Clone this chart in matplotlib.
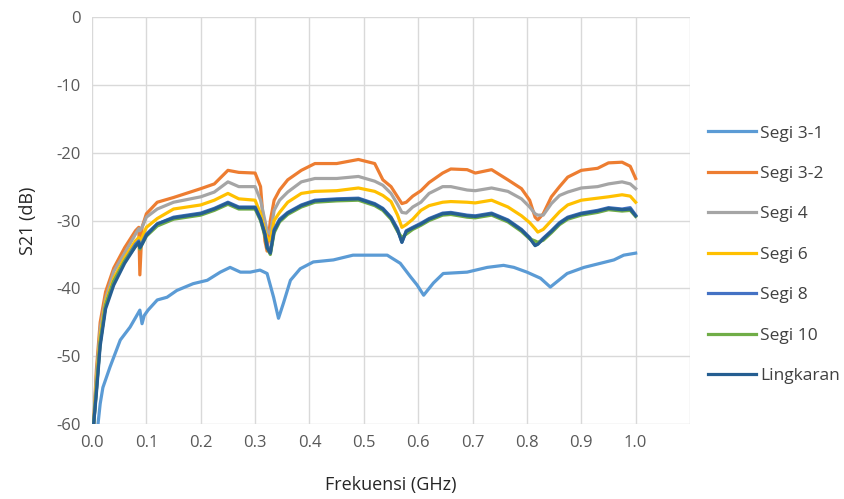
import matplotlib.pyplot as plt

# ---------------------------------
# Data
# ---------------------------------
freq = [0.003, 0.008, 0.015, 0.025, 0.04, 0.06, 0.08, 0.086, 0.088, 0.092, 0.1,
        0.12, 0.15, 0.2, 0.225, 0.25, 0.27, 0.3, 0.31, 0.318, 0.322, 0.328, 0.335,
        0.345, 0.36, 0.385, 0.41, 0.45, 0.49, 0.52, 0.535, 0.55, 0.562, 0.57, 0.578,
        0.59, 0.605, 0.62, 0.645, 0.66, 0.69, 0.705, 0.735, 0.765, 0.79, 0.805,
        0.815, 0.82, 0.83, 0.845, 0.86, 0.875, 0.9, 0.93, 0.95, 0.975, 0.99, 1.0]

segi_3_2 = [-60, -52, -45, -40.5, -37, -34, -31.5, -31, -38, -31, -29,
            -27.3, -26.6, -25.3, -24.6, -22.6, -22.9, -23, -25, -33, -34.5, -30, -27,
            -25.5, -24, -22.6, -21.6, -21.6, -21.0, -21.6, -24.0, -25, -26.5, -27.5, -27.3,
            -26.4, -25.6, -24.4, -23, -22.4, -22.5, -23, -22.5, -24, -25.3, -27,
            -29.5, -29.9, -29, -26.5, -25, -23.6, -22.6, -22.3, -21.5, -21.4, -22, -23.8]

segi_4 = [-60, -53, -46, -41.5, -37.5, -34.8, -32, -31.2, -31.5, -31, -29.5,
          -28.3, -27.3, -26.5, -25.8, -24.3, -25.0, -25, -27, -30, -31.5, -32, -28.5,
          -27, -25.8, -24.3, -23.8, -23.8, -23.5, -24.2, -24.8, -26, -27.6, -28.8, -28.9,
          -28, -27.3, -26, -25, -25, -25.5, -25.6, -25.2, -25.7, -26.8, -28,
          -29, -29.2, -29.2, -27.5, -26.3, -25.8, -25.2, -25, -24.6, -24.3, -24.6, -25.3]

segi_6 = [-60, -54, -47, -42, -38.5, -35.5, -33, -32.5, -33, -32.5, -31,
          -29.7, -28.3, -27.7, -27, -26, -26.8, -27, -29, -31.5, -32.5, -33, -30,
          -28.8, -27.3, -26, -25.7, -25.6, -25.2, -25.7, -26.3, -27.2, -29.2, -31, -30.6,
          -29.8, -28.5, -27.8, -27.3, -27.2, -27.3, -27.4, -27, -28, -29.3, -30.3,
          -31.2, -31.7, -31.3, -30, -28.7, -27.7, -27, -26.7, -26.5, -26.2, -26.4, -27.3]

segi_8 = [-60, -55, -48, -42.5, -39, -36, -33.5, -33, -34, -33.3, -32,
          -30.5, -29.5, -28.9, -28.2, -27.3, -28.0, -28, -29.8, -32, -33.5, -34.8, -31.3,
          -29.8, -28.8, -27.7, -27, -26.8, -26.7, -27.5, -28.2, -29.5, -31.2, -33.2, -31.5,
          -31, -30.4, -29.7, -28.9, -28.8, -29.2, -29.3, -28.9, -29.9, -31.3, -32.5,
          -33.6, -33.4, -32.6, -31.5, -30.3, -29.5, -28.9, -28.5, -28.1, -28.3, -28.1, -29.2]

segi_10 = [-60, -55, -48, -42.5, -39, -36, -33.8, -33.3, -34.2, -33.5, -32.3,
           -30.8, -29.8, -29.2, -28.5, -27.6, -28.3, -28.3, -30, -32.3, -34, -35, -31.8,
           -30.2, -29.1, -28, -27.3, -27.1, -27, -27.8, -28.5, -29.8, -31.6, -32.5, -32,
           -31.3, -30.7, -30, -29.2, -29.1, -29.5, -29.6, -29.2, -30.2, -31.6, -32.7,
           -33, -33.2, -32.9, -31.8, -30.6, -29.8, -29.2, -28.8, -28.4, -28.6, -28.5, -29.4]

lingkaran = [-60, -55.5, -48.5, -43, -39.5, -36.3, -33.8, -33.2, -34, -33.5, -32.2,
             -30.5, -29.6, -29, -28.3, -27.4, -28.1, -28.1, -29.8, -32, -34, -34.8, -31.5,
             -30, -28.9, -27.8, -27.1, -26.9, -26.8, -27.6, -28.3, -29.6, -31.4, -33.2, -31.6,
             -31.1, -30.5, -29.8, -29, -28.9, -29.3, -29.4, -29, -30, -31.4, -32.6,
             -33.7, -33.5, -32.7, -31.6, -30.4, -29.6, -29, -28.6, -28.2, -28.4, -28.3, -29.3]

freq_3_1 = [0.011, 0.015, 0.02, 0.033, 0.052, 0.07, 0.088, 0.092, 0.096, 0.103,
            0.12, 0.138, 0.156, 0.186, 0.212, 0.236, 0.254, 0.273, 0.291, 0.309,
            0.322, 0.334, 0.343, 0.352, 0.365, 0.383, 0.407, 0.444, 0.48, 0.5,
            0.543, 0.567, 0.586, 0.598, 0.61, 0.628, 0.646, 0.69, 0.727, 0.757,
            0.776, 0.8, 0.825, 0.843, 0.874, 0.905, 0.935, 0.96, 0.978, 1.0]
segi_3_1 = [-60, -57, -54.6, -51.6, -47.6, -45.7, -43.2, -45.2, -44, -43.2,
            -41.7, -41.3, -40.3, -39.3, -38.8, -37.6, -36.9, -37.6, -37.6, -37.3,
            -37.8, -41.3, -44.4, -42.2, -38.8, -37.1, -36.1, -35.8, -35.1, -35.1,
            -35.1, -36.3, -38.3, -39.5, -41, -39.2, -37.8, -37.6, -36.9, -36.6,
            -36.9, -37.6, -38.5, -39.8, -37.8, -36.9, -36.3, -35.8, -35.1, -34.8]

x_ticks = [0.0, 0.1, 0.2, 0.3, 0.4, 0.5, 0.6, 0.7, 0.8, 0.9, 1.0, 1.1]
y_ticks = [0, -10, -20, -30, -40, -50, -60]

plt.rcParams['font.family'] = ['Open Sans', 'DejaVu Sans']
plt.rcParams['axes.unicode_minus'] = False

fig = plt.figure(figsize=(8.45, 4.99), dpi=100)
ax = fig.add_axes([0.1089, 0.150, 0.7077, 0.816])

lw = 2.3
ax.plot(freq_3_1, segi_3_1, color='#5B9BD5', lw=lw, label='Segi 3-1')
ax.plot(freq, segi_3_2, color='#ED7D31', lw=lw, label='Segi 3-2')
ax.plot(freq, segi_4, color='#A5A5A5', lw=lw, label='Segi 4')
ax.plot(freq, segi_6, color='#FFC000', lw=lw, label='Segi 6')
ax.plot(freq, segi_8, color='#4472C4', lw=lw, label='Segi 8')
ax.plot(freq, segi_10, color='#70AD47', lw=lw, label='Segi 10')
ax.plot(freq, lingkaran, color='#255E91', lw=lw, label='Lingkaran')

ax.set_xlim(0, 1.1)
ax.set_ylim(-60, 0)
ax.set_xticks(x_ticks)
ax.set_xticklabels([f'{t:.1f}' for t in x_ticks[:-1]] + [''])
ax.set_yticks(y_ticks)
ax.tick_params(length=0, labelsize=12, labelcolor='#595959', pad=8)
ax.grid(True, color='#D9D9D9', lw=1)
ax.set_axisbelow(True)
for s in ax.spines.values():
    s.set_visible(False)

ax.set_xlabel('Frekuensi (GHz)', fontsize=13, color='#262626', labelpad=18)
ax.set_ylabel('S21 (dB)', fontsize=13, color='#262626', labelpad=14)

fig.legend(loc='upper left', bbox_to_anchor=(0.819, 0.78), frameon=False,
           fontsize=12.5, labelspacing=1.4, handlelength=2.8, handletextpad=0.2,
           labelcolor='#404040')

fig.savefig('out.png', dpi=100)
